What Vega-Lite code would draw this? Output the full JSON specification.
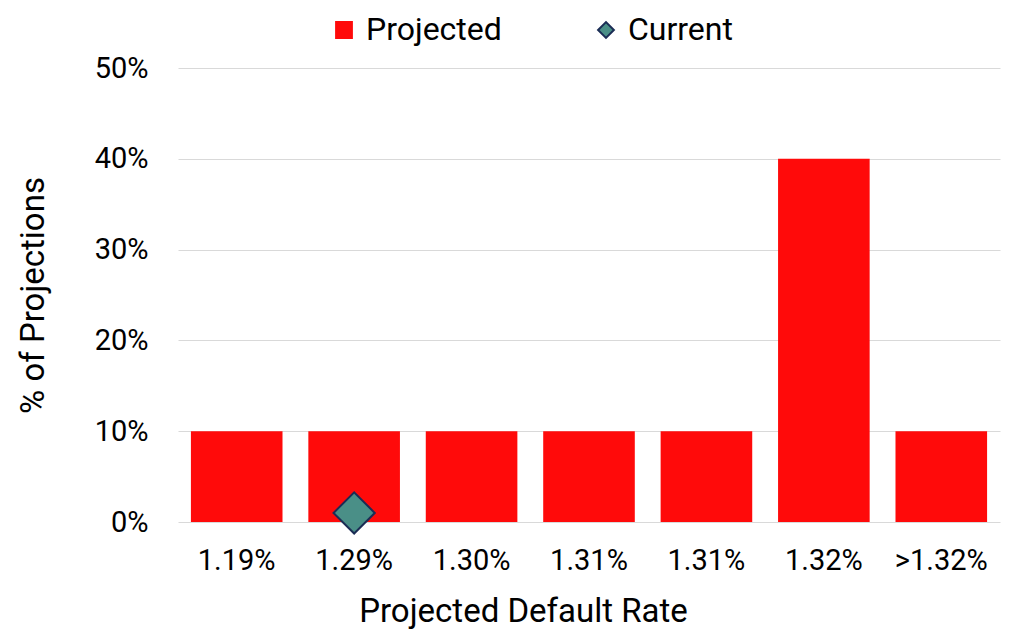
{
  "$schema": "https://vega.github.io/schema/vega-lite/v6.json",
  "width": 822,
  "height": 454,
  "autosize": {"type": "none"},
  "padding": {"left": 178, "top": 68, "right": 24, "bottom": 118},
  "config": {
    "view": {"stroke": null},
    "font": "Roboto",
    "axis": {"labelFont": "Roboto", "titleFont": "Roboto", "labelColor": "#000000", "titleColor": "#000000", "titleFontWeight": "normal"},
    "legend": {"labelFont": "Roboto"}
  },
  "datasets": {
    "projections": [
      {"rate": "1.19%", "share": 0.10, "series": "Projected"},
      {"rate": "1.29%", "share": 0.10, "series": "Projected"},
      {"rate": "1.30%", "share": 0.10, "series": "Projected"},
      {"rate": "1.31%", "share": 0.10, "series": "Projected"},
      {"rate": "1.31%\u200b", "share": 0.10, "series": "Projected"},
      {"rate": "1.32%", "share": 0.40, "series": "Projected"},
      {"rate": ">1.32%", "share": 0.10, "series": "Projected"}
    ],
    "current": [
      {"rate": "1.29%", "share": 0.01, "series": "Current"}
    ]
  },
  "encoding": {
    "x": {
      "field": "rate",
      "type": "nominal",
      "sort": null,
      "scale": {"domain": ["1.19%", "1.29%", "1.30%", "1.31%", "1.31%\u200b", "1.32%", ">1.32%"], "paddingInner": 0.22, "paddingOuter": 0.11},
      "axis": {
        "title": "Projected Default Rate",
        "titleFontSize": 33,
        "titlePadding": 20,
        "titleX": 345,
        "titleAlign": "center",
        "labelFontSize": 29,
        "labelAngle": 0,
        "labelPadding": 24,
        "ticks": false,
        "domain": false,
        "grid": false
      }
    },
    "y": {
      "field": "share",
      "type": "quantitative",
      "scale": {"domain": [0, 0.5]},
      "axis": {
        "title": "% of Projections",
        "titleFontSize": 33,
        "titlePadding": 44,
        "labelFontSize": 29,
        "labelPadding": 30,
        "format": ".0%",
        "values": [0, 0.1, 0.2, 0.3, 0.4, 0.5],
        "ticks": false,
        "domain": false,
        "grid": true,
        "gridColor": "#d9d9d9",
        "gridWidth": 1
      }
    }
  },
  "layer": [
    {
      "data": {"name": "projections"},
      "mark": {"type": "bar", "strokeWidth": 0},
      "encoding": {
        "fill": {"field": "series", "type": "nominal", "scale": {"domain": ["Projected", "Current"], "range": ["#ff0a0a", "#4a8f87"]}, "legend": {"title": null, "orient": "none", "legendX": 150, "legendY": -54, "direction": "horizontal", "labelFontSize": 32, "symbolSize": 250, "columnPadding": 88, "labelOffset": 6, "symbolStrokeWidth": 2}},
        "stroke": {"field": "series", "type": "nominal", "scale": {"domain": ["Projected", "Current"], "range": ["#ff0a0a", "#1b2d55"]}, "legend": {"title": null, "orient": "none", "legendX": 150, "legendY": -54, "direction": "horizontal", "labelFontSize": 32, "symbolSize": 250, "columnPadding": 88, "labelOffset": 6, "symbolStrokeWidth": 2}}
      }
    },
    {
      "data": {"name": "current"},
      "mark": {"type": "point", "filled": true, "size": 1700, "strokeWidth": 2, "opacity": 1},
      "encoding": {
        "fill": {"field": "series", "type": "nominal"},
        "stroke": {"field": "series", "type": "nominal"},
        "shape": {"field": "series", "type": "nominal", "scale": {"domain": ["Projected", "Current"], "range": ["square", "diamond"]}, "legend": {"title": null, "orient": "none", "legendX": 150, "legendY": -54, "direction": "horizontal", "labelFontSize": 32, "symbolSize": 250, "columnPadding": 88, "labelOffset": 6, "symbolStrokeWidth": 2}}
      }
    }
  ]
}
